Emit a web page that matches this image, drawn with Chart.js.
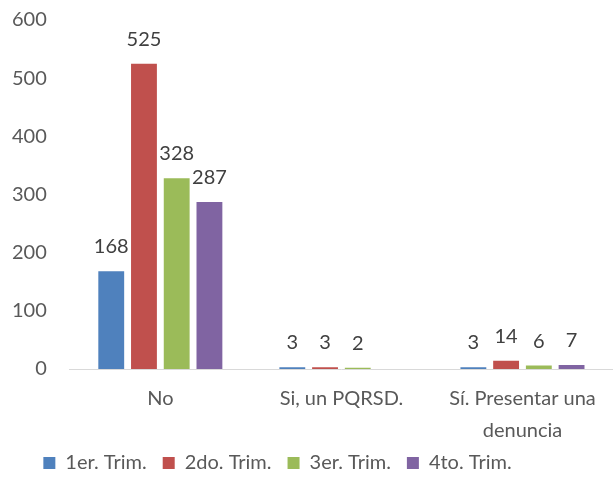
<!DOCTYPE html>
<html>
<head>
<meta charset="utf-8">
<script src="https://cdn.jsdelivr.net/npm/chart.js@4"></script>
<style>
  html, body { margin: 0; padding: 0; background: #fff; }
  #wrap { width: 613px; height: 489px; }
</style>
</head>
<body>
<div id="wrap"><canvas id="myChart" width="613" height="489"></canvas></div>
<script>
// categorías y series
const categorias = ['No', 'Si, un PQRSD.', ['Sí. Presentar una', 'denuncia']];
const trim1 = [168, 3, 3];
const trim2 = [525, 3, 14];
const trim3 = [328, 2, 6];
const trim4 = [287, null, 7];
const nombres = ['1er. Trim.', '2do. Trim.', '3er. Trim.', '4to. Trim.'];
const colores = ['#4F81BD', '#C0504D', '#9BBB59', '#8064A2'];
const ticksY = [0, 100, 200, 300, 400, 500, 600];

const FUENTE = 'Lato, "Open Sans", sans-serif';

// etiquetas de valor encima de las barras
const etiquetas = {
  id: 'etiquetas',
  afterLayout(chart) {
    // la leyenda del original está corrida a la izquierda y un poco más arriba
    if (chart.legend) {
      chart.legend.left -= 35;
      chart.legend.right -= 35;
      chart.legend.top -= 10;
      chart.legend.bottom -= 10;
    }
  },
  afterDatasetsDraw(chart) {
    const ctx = chart.ctx;
    ctx.save();
    ctx.font = '20px ' + FUENTE;
    ctx.fillStyle = '#404040';
    ctx.textAlign = 'center';
    ctx.textBaseline = 'alphabetic';
    chart.data.datasets.forEach((ds, i) => {
      const meta = chart.getDatasetMeta(i);
      meta.data.forEach((bar, j) => {
        const v = ds.data[j];
        if (v === null || v === undefined) return;
        ctx.fillText(String(v), bar.x, bar.y - 18);
      });
    });
    ctx.restore();
  }
};

const series = [trim1, trim2, trim3, trim4];

new Chart(document.getElementById('myChart').getContext('2d'), {
  type: 'bar',
  data: {
    labels: categorias,
    datasets: series.map((d, i) => ({
      label: nombres[i],
      data: d,
      backgroundColor: colores[i],
      borderWidth: 0,
      categoryPercentage: 0.723,
      barPercentage: 0.79
    }))
  },
  options: {
    responsive: false,
    animation: false,
    layout: { padding: { top: 20, right: 0, left: 12, bottom: -4 } },
    plugins: {
      legend: {
        position: 'bottom',
        labels: {
          boxWidth: 12,
          boxHeight: 12,
          padding: 16,
          color: '#595959',
          font: { family: FUENTE, size: 20 }
        }
      },
      tooltip: { enabled: false }
    },
    scales: {
      x: {
        grid: { display: false, drawTicks: true, tickLength: 14 },
        border: { color: '#D9D9D9', width: 1 },
        ticks: { color: '#595959', font: { family: FUENTE, size: 20, lineHeight: 1.6 }, padding: 0, maxRotation: 0 }
      },
      y: {
        min: 0,
        max: 600,
        afterBuildTicks(axis) { axis.ticks = ticksY.map(v => ({ value: v })); },
        grid: { display: false, drawTicks: true, tickLength: 23 },
        border: { display: false },
        ticks: { color: '#595959', font: { family: FUENTE, size: 20 }, padding: 0 }
      }
    }
  },
  plugins: [etiquetas]
});
</script>
</body>
</html>
